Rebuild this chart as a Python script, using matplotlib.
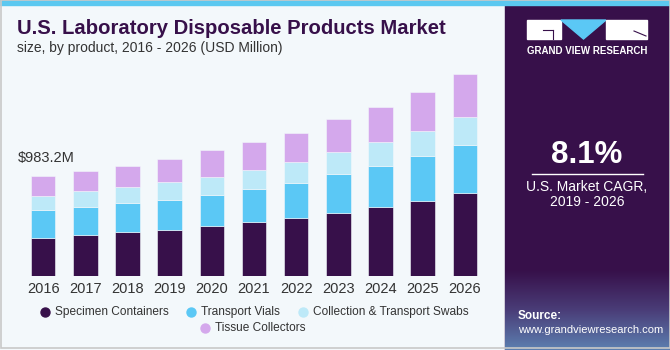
"""
U.S. laboratory disposable products market, stacked bars by product.
"""
import matplotlib
matplotlib.use('Agg')  # Headless backend
import matplotlib.pyplot as plt
import numpy as np
from matplotlib.patches import Rectangle, Polygon

# Data (USD Million)
years = ['2016', '2017', '2018', '2019', '2020', '2021',
         '2022', '2023', '2024', '2025', '2026']
specimen_containers = [376.6, 406.0, 435.6, 452.3, 491.6, 530.9, 573.2, 622.4, 681.4, 740.3, 819.0]
transport_vials = [269.4, 272.3, 285.1, 292.0, 307.7, 327.4, 338.2, 380.5, 403.1, 436.5, 469.0]
swabs = [143.5, 154.4, 151.4, 179.9, 177.0, 183.9, 209.4, 213.4, 230.1, 251.7, 275.3]
tissue_collectors = [193.7, 196.6, 212.4, 223.2, 259.6, 275.3, 288.1, 327.4, 347.1, 383.4, 422.8]
series_names = ['Specimen Containers', 'Transport Vials',
                'Collection & Transport Swabs', 'Tissue Collectors']
first_total_label = '$983.2M'
cagr = '8.1%'

# Styling
BG = '#F3F8FB'
PURPLE_DARK = '#37104A'
COLORS = ['#37104A', '#5BC8F5', '#BDE9F8', '#D4A8EC']
TEXT = '#333333'
FONT = 'Liberation Sans'

W, H = 670, 350
fig = plt.figure(figsize=(W / 100, H / 100), dpi=100)
fig.patch.set_facecolor(BG)


def fx(px):
    return px / W


def fy(py):
    return 1 - py / H


# Figure-level decoration axes (pixel coordinates, y down)
deco = fig.add_axes([0, 0, 1, 1], zorder=0)
deco.axis('off')

# right panel with gradient at the bottom
deco.add_patch(Rectangle((505, 0), W - 505, H, color=PURPLE_DARK, zorder=1))
grad = np.linspace(0, 1, 100)[:, None]
grad_cmap = matplotlib.colors.LinearSegmentedColormap.from_list(
    'panel', [PURPLE_DARK, '#4A3D78', '#5C7FB0'])
deco.imshow(grad, extent=(505, W, H, 270), aspect='auto', cmap=grad_cmap, zorder=2)
deco.set_xlim(0, W)
deco.set_ylim(H, 0)

# top stripe and border
deco.add_patch(Rectangle((0, 0), W, 5, color='#5BC8F0', zorder=3))
deco.add_patch(Rectangle((0.5, 0), W - 1, H - 2, fill=False, ec='#C8C8C8', lw=1.2, zorder=3))

# logo
deco.add_patch(Rectangle((527, 20), 34, 19, color='white', zorder=4))
deco.add_patch(Polygon([(561, 20), (606, 20), (583.5, 39)], color='#5BC8F5', zorder=4))
deco.add_patch(Rectangle((606, 20), 41, 19, color='white', zorder=4))
deco.plot([543, 553], [30, 30], color=PURPLE_DARK, lw=0.8, zorder=5)
deco.plot([553, 553], [30, 39], color=PURPLE_DARK, lw=0.8, zorder=5)
deco.plot([634, 646], [31, 36], color=PURPLE_DARK, lw=0.8, zorder=5)
deco.text(587, 51, 'GRAND VIEW RESEARCH', color='white', fontsize=7, fontweight='bold',
          ha='center', va='center', family=FONT, zorder=5)

# CAGR block
deco.text(587, 155, cagr, color='white', fontsize=22.5, fontweight='bold',
          ha='center', va='center', family=FONT, zorder=5)
deco.plot([532, 643], [173.5, 173.5], color='white', lw=1, zorder=5)
deco.text(587, 187, 'U.S. Market CAGR,', color='white', fontsize=10,
          ha='center', va='center', family=FONT, zorder=5)
deco.text(587, 202, '2019 - 2026', color='white', fontsize=10,
          ha='center', va='center', family=FONT, zorder=5)
deco.text(518, 316, 'Source:', color='white', fontsize=8.5, fontweight='bold',
          ha='left', va='center', family=FONT, zorder=5)
deco.text(518, 330, 'www.grandviewresearch.com', color='white', fontsize=8,
          ha='left', va='center', family=FONT, zorder=5)

# titles
deco.text(17, 29, 'U.S. Laboratory Disposable Products Market', color=PURPLE_DARK,
          fontsize=14.6, fontweight='heavy', ha='left', va='center', family=FONT, zorder=5)
deco.text(17, 48, 'size, by product, 2016 - 2026 (USD Million)', color=TEXT,
          fontsize=10, ha='left', va='center', family=FONT, zorder=5)

# Chart axes: baseline at y=276 px, 9.832 USD M per px
ax_left, ax_right = 22, 486
ax_top, ax_bottom = 60, 276
ax = fig.add_axes([fx(ax_left), fy(ax_bottom), fx(ax_right - ax_left), (ax_bottom - ax_top) / H],
                  zorder=2)
ax.patch.set_alpha(0)
x = np.arange(len(years))
bottom = np.zeros(len(years))
for vals, color in zip([specimen_containers, transport_vials, swabs, tissue_collectors], COLORS):
    ax.bar(x, vals, width=0.58, bottom=bottom, color=color, edgecolor=BG, linewidth=0.4)
    bottom += np.array(vals)
ax.set_xlim(-0.5, len(years) - 0.5)
ax.set_ylim(0, (ax_bottom - ax_top) * 9.832)
ax.set_xticks(x)
ax.set_xticklabels(years, fontsize=10.5, color=TEXT, family=FONT)
ax.tick_params(axis='x', length=0, pad=4)
ax.set_yticks([])
for spine in ax.spines.values():
    spine.set_visible(False)
ax.annotate(first_total_label, xy=(x[0], bottom[0]), xytext=(-25, 18),
            textcoords='offset pixels', fontsize=10.5, color=TEXT, family=FONT,
            ha='left', va='center')

# Legend, drawn by hand: three entries on row one, the fourth centred below
legend_rows = [(312, [(45, 0), (191, 1), (303, 2)]), (328, [(205, 3)])]
for ly, entries in legend_rows:
    for lx, idx in entries:
        deco.scatter([lx], [ly], s=42, color=COLORS[idx], zorder=5)
        deco.text(lx + 10, ly, series_names[idx], color=TEXT, fontsize=8.6,
                  ha='left', va='center', family=FONT, zorder=5)

fig.savefig('out.png', dpi=100, facecolor=BG)
plt.close(fig)
